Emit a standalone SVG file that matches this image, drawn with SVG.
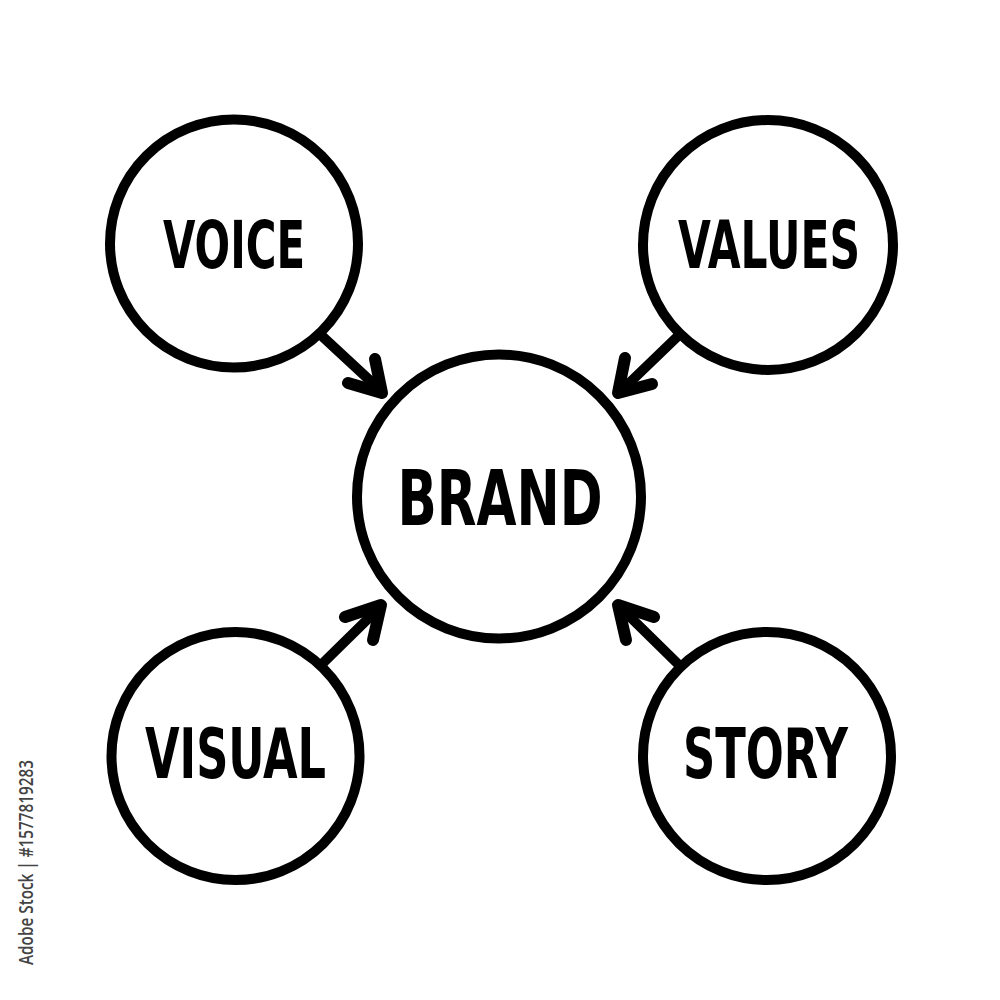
<svg xmlns="http://www.w3.org/2000/svg" width="1000" height="1000" viewBox="0 0 1000 1000">
<style>
.c{fill:#fff;stroke:#000;stroke-width:10}
.t{font-family:"DejaVu Sans Condensed","Liberation Sans Narrow","Liberation Sans",sans-serif;font-weight:bold;fill:#000;text-anchor:middle}
.l{fill:none;stroke:#000;stroke-width:10;stroke-linecap:round;stroke-linejoin:round}
.h{fill:none;stroke:#000;stroke-width:12;stroke-linecap:round;stroke-linejoin:round}
</style>
<rect width="1000" height="1000" fill="#fff"/>
<g id="connectors">
<line class="l" x1="323" y1="337" x2="378" y2="388"/>
<polyline class="h" points="348,383 382,393 375,359"/>
<line class="l" x1="677" y1="337" x2="622" y2="390"/>
<polyline class="h" points="625,358 618,393 652,384"/>
<line class="l" x1="323" y1="663" x2="378" y2="609"/>
<polyline class="h" points="345,617 381,605 373,640"/>
<line class="l" x1="677" y1="663" x2="622" y2="609"/>
<polyline class="h" points="654,617 618,605 626,640"/>
</g>
<g id="voice"><circle class="c" cx="234" cy="243.5" r="124"/><text class="t" x="234" y="268" font-size="66" textLength="142" lengthAdjust="spacingAndGlyphs">VOICE</text></g>
<g id="values"><circle class="c" cx="768" cy="245" r="125"/><text class="t" x="769" y="268" font-size="66" textLength="182" lengthAdjust="spacingAndGlyphs">VALUES</text></g>
<g id="brand"><circle class="c" cx="499" cy="496.5" r="142"/><text class="t" x="500" y="525" font-size="76" textLength="205" lengthAdjust="spacingAndGlyphs">BRAND</text></g>
<g id="visual"><circle class="c" cx="235.5" cy="756" r="124"/><text class="t" x="235.5" y="778" font-size="70" textLength="181" lengthAdjust="spacingAndGlyphs">VISUAL</text></g>
<g id="story"><circle class="c" cx="767" cy="756" r="124"/><text class="t" x="765.5" y="778" font-size="70" textLength="165" lengthAdjust="spacingAndGlyphs">STORY</text></g>
<text x="0" y="0" transform="translate(33,965) rotate(-90)" font-family="'Open Sans','Noto Sans',sans-serif" font-weight="600" font-size="19" fill="#444" textLength="205" lengthAdjust="spacingAndGlyphs">Adobe Stock | #1577819283</text>
</svg>
